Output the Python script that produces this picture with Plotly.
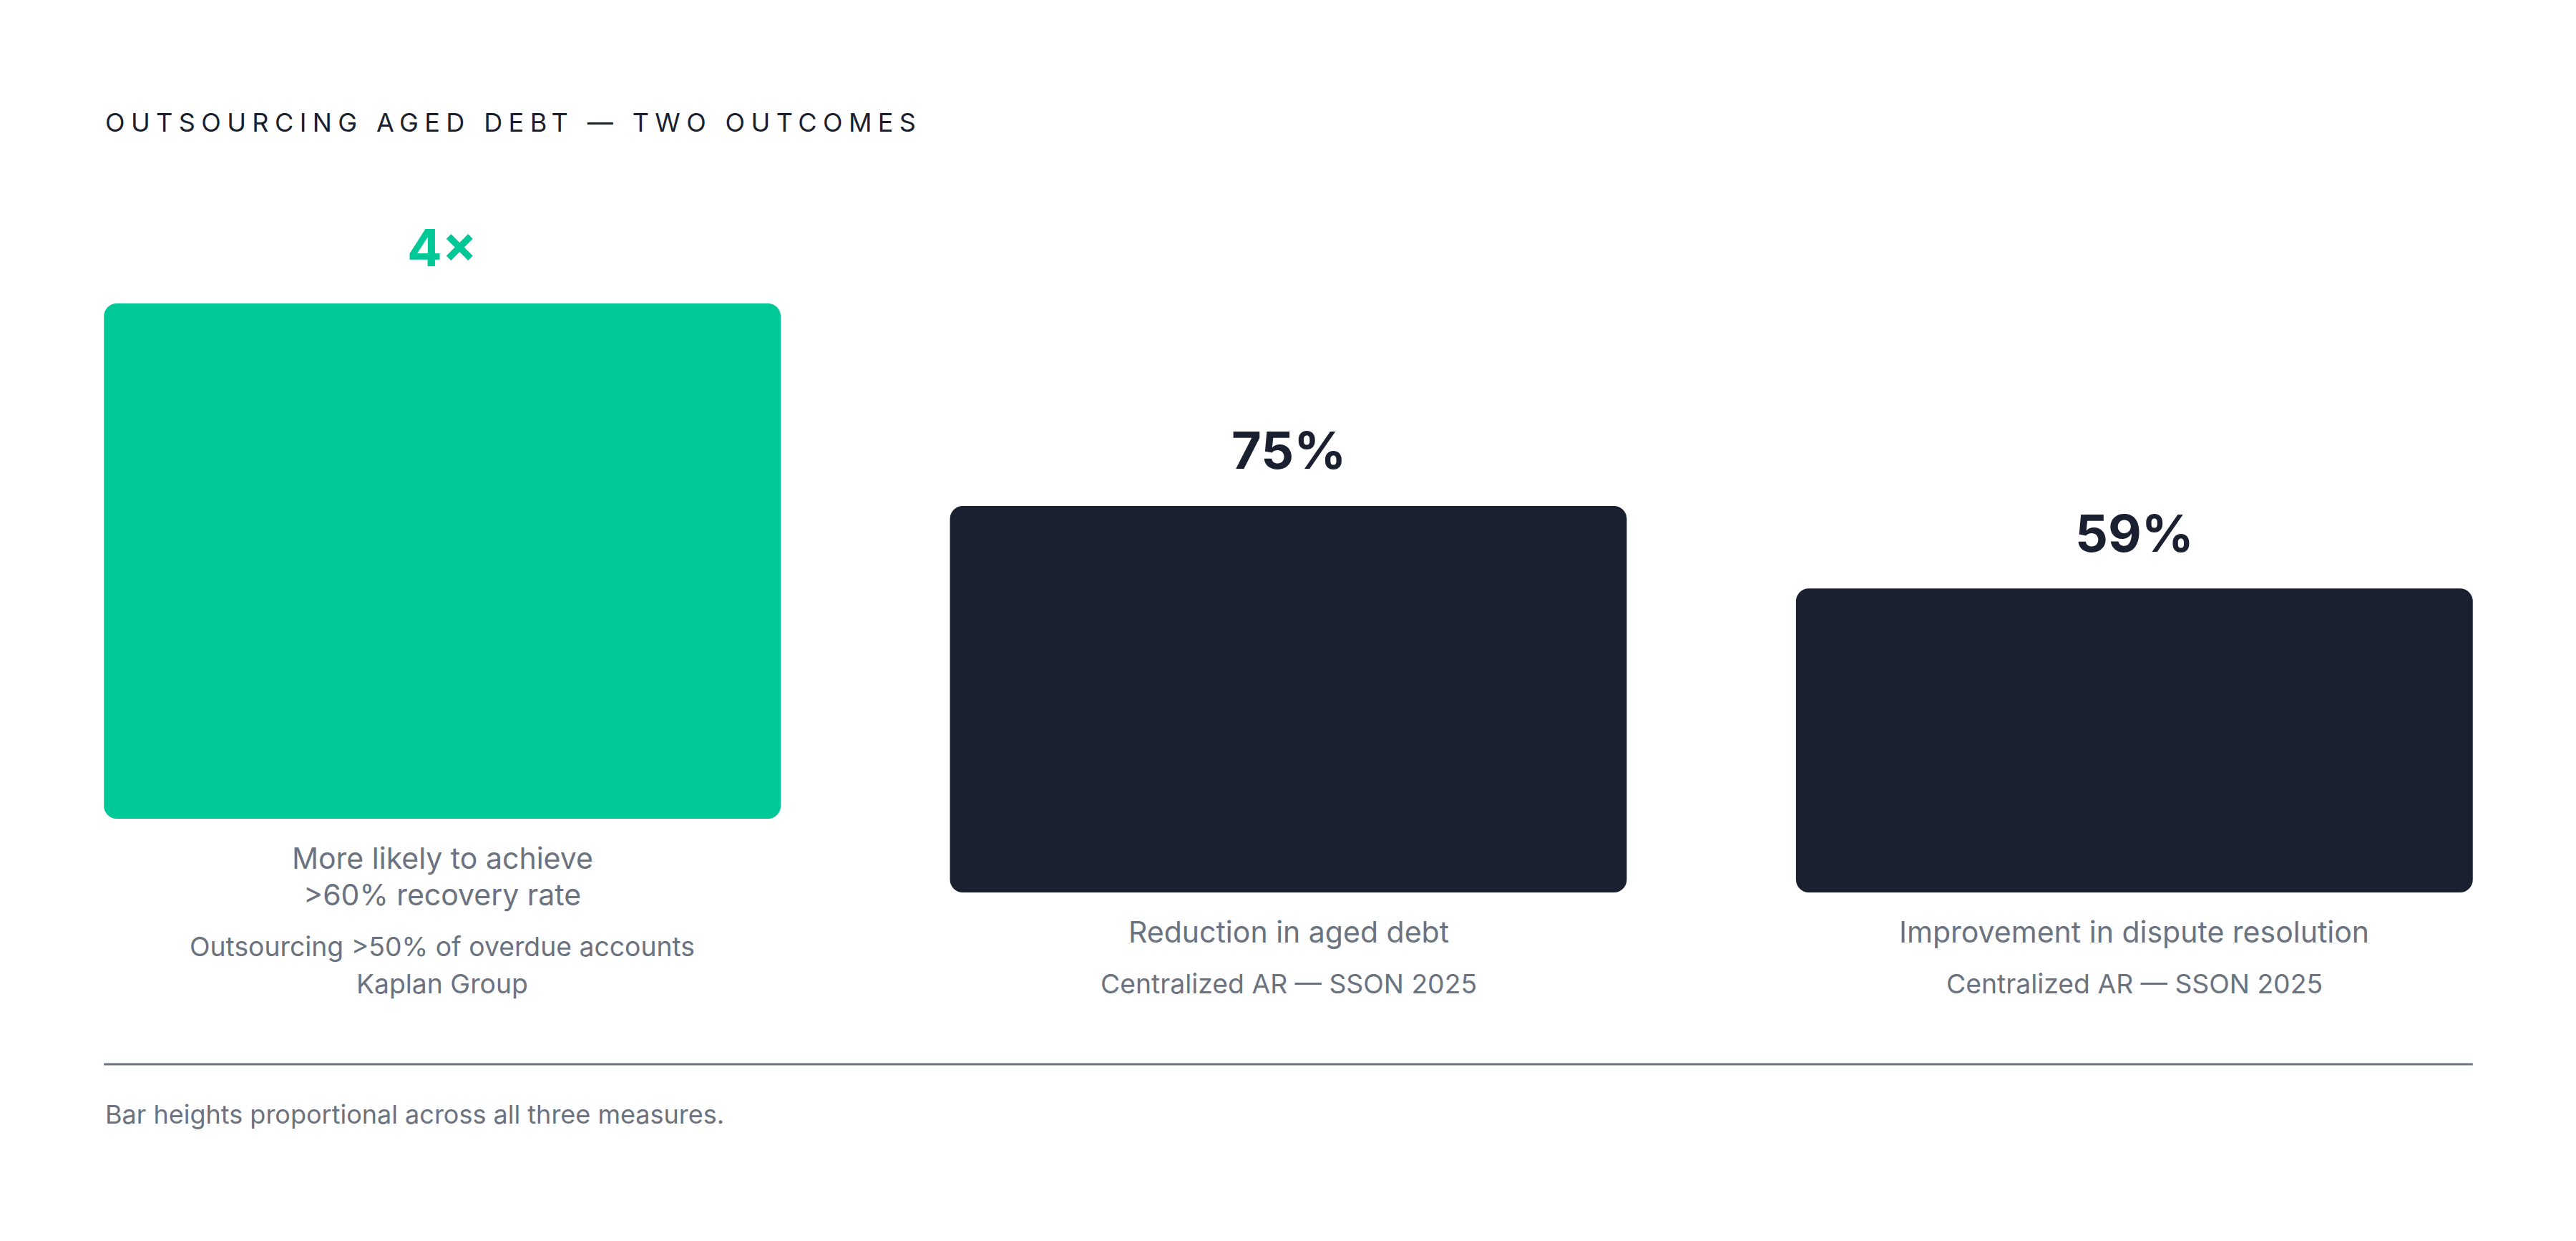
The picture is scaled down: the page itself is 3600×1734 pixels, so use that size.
import plotly.graph_objects as go

# ---------------- data ----------------
categories = ["Outsourcing", "Aged debt", "Dispute resolution"]
bar_heights = [100, 75, 59]          # proportional bar heights
value_labels = ["4×", "75%", "59%"]
main_labels = [
    ["More likely to achieve", ">60% recovery rate"],
    ["Reduction in aged debt"],
    ["Improvement in dispute resolution"],
]
source_labels = [
    ["Outsourcing >50% of overdue accounts", "Kaplan Group"],
    ["Centralized AR — SSON 2025"],
    ["Centralized AR — SSON 2025"],
]
title_text = "OUTSOURCING AGED DEBT — TWO OUTCOMES"
footnote_text = "Bar heights proportional across all three measures."

# ---------------- style ----------------
W, H = 3600, 1734
OFF = 8                       # page body margin
PX = 7.2                      # pixels per unit of bar height
GREEN = "#00C896"
DARK = "#1B2030"
GRAY = "#6B7280"
TITLE_C = "#1B1F2E"
FONT = "Inter"
bar_colors = [GREEN, DARK, DARK]
value_colors = [GREEN, DARK, DARK]

LABEL_BOTTOM = 1390 - OFF   # px from top of plot div: baseline of the last label line
FIRST_GAP = 72        # bar bottom -> first main baseline
MAIN_LS = 51
SUB_GAP = 71
SUB_LS = 52
VALUE_GAP = 51        # value baseline above bar top
TEXT_NUDGE = 3        # small upward correction for label baselines
ASC = 0.969
MAIN_FS, SUB_FS, VAL_FS = 41, 37.3, 72
TITLE_FS, FOOT_FS = 36, 36
R = 18

fig = go.Figure()

bases = []
tops = []
for i, cat in enumerate(categories):
    stack = FIRST_GAP + MAIN_LS * (len(main_labels[i]) - 1) + SUB_GAP + SUB_LS * (len(source_labels[i]) - 1)
    bottom_px = LABEL_BOTTOM - stack
    base = (H - bottom_px) / PX
    bases.append(base)
    tops.append(base + bar_heights[i])

fig.add_trace(go.Bar(
    x=categories, y=bar_heights, base=bases,
    marker=dict(color=bar_colors, cornerradius=R, line=dict(width=0)),
    hoverinfo="skip", showlegend=False,
))

annotations = []
for i, cat in enumerate(categories):
    annotations.append(dict(
        x=cat, y=tops[i], xref="x", yref="y", text=value_labels[i],
        showarrow=False, xanchor="center", yanchor="bottom",
        yshift=VALUE_GAP - 1 - 0.241 * VAL_FS,
        font=dict(family=FONT, size=VAL_FS, color=value_colors[i], weight=700),
    ))
    d = FIRST_GAP - TEXT_NUDGE
    for line in main_labels[i]:
        annotations.append(dict(
            x=cat, y=bases[i], xref="x", yref="y", text=line,
            showarrow=False, xanchor="center", yanchor="top",
            yshift=-(d - 1 - ASC * MAIN_FS),
            font=dict(family=FONT, size=MAIN_FS, color=GRAY),
        ))
        d += MAIN_LS
    d += SUB_GAP - MAIN_LS
    for line in source_labels[i]:
        annotations.append(dict(
            x=cat, y=bases[i], xref="x", yref="y", text=line,
            showarrow=False, xanchor="center", yanchor="top",
            yshift=-(d - 1 - ASC * SUB_FS),
            font=dict(family=FONT, size=SUB_FS, color=GRAY),
        ))
        d += SUB_LS

annotations.append(dict(
    x=-0.4, y=1, xref="x", yref="paper",
    text='<span style="letter-spacing:8.4px">' + title_text + '</span>',
    showarrow=False, xanchor="left", yanchor="top",
    yshift=-(183 - OFF - 1 - ASC * TITLE_FS),
    font=dict(family=FONT, size=TITLE_FS, color=TITLE_C),
))
annotations.append(dict(
    x=-0.4, y=1, xref="x", yref="paper", text=footnote_text,
    showarrow=False, xanchor="left", yanchor="top",
    yshift=-(1572 - OFF - TEXT_NUDGE - 1 - ASC * FOOT_FS),
    font=dict(family=FONT, size=FOOT_FS, color=GRAY),
))

line_y = 1 - (1487 - OFF) / H
fig.update_layout(
    width=W, height=H,
    margin=dict(l=27 - OFF, r=26 + OFF, t=0, b=0),
    paper_bgcolor="white", plot_bgcolor="white",
    barmode="overlay", bargap=0.2,
    showlegend=False,
    annotations=annotations,
    shapes=[dict(
        type="line", xref="x", yref="paper",
        x0=-0.4, x1=2.4, y0=line_y, y1=line_y,
        line=dict(color=GRAY, width=3),
    )],
    xaxis=dict(range=[-0.5, 2.5], visible=False, fixedrange=True),
    yaxis=dict(range=[0, H / PX], visible=False, fixedrange=True),
    font=dict(family=FONT),
)

fig.write_html("out.html")
